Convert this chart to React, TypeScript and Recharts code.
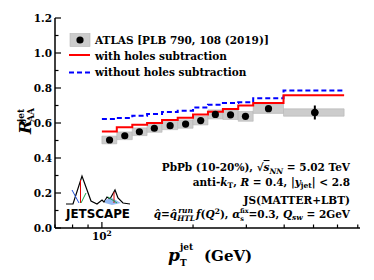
import React from "react"
import { ComposedChart, Line, Scatter, XAxis, YAxis, ReferenceArea, ErrorBar } from "recharts"

// ATLAS jet R_AA bins (GeV) and JETSCAPE curves
const binEdges = [100, 112, 126, 141, 158, 178, 200, 224, 251, 282, 316, 398, 631]
const binCenters = [106, 119, 133, 149, 168, 189, 212, 237, 266, 298, 355, 505]
const atlasRaa = [0.503, 0.527, 0.55, 0.57, 0.585, 0.594, 0.614, 0.649, 0.647, 0.638, 0.682, 0.66]
const atlasSys = [0.022, 0.022, 0.022, 0.023, 0.023, 0.024, 0.025, 0.026, 0.027, 0.028, 0.027, 0.021]
const atlasStat = [null, null, null, null, null, null, null, null, null, null, null, 0.04]
const withHoles = [0.551, 0.576, 0.59, 0.6, 0.617, 0.63, 0.648, 0.664, 0.68, 0.7, 0.714, 0.758]
const withoutHoles = [0.623, 0.629, 0.642, 0.651, 0.663, 0.67, 0.689, 0.705, 0.714, 0.718, 0.741, 0.786]

const xTicks = [70, 80, 90, 100, 200, 300, 400, 500, 600, 700]
const xMajor = [100]
const yTicks = [0, 0.1, 0.2, 0.3, 0.4, 0.5, 0.6, 0.7, 0.8, 0.9, 1.0, 1.1, 1.2]
const yLabels = ["0.0", "0.2", "0.4", "0.6", "0.8", "1.0", "1.2"]

const stepData = binEdges.map((pt, i) => ({
  pt,
  withHoles: withHoles[Math.min(i, withHoles.length - 1)],
  withoutHoles: withoutHoles[Math.min(i, withoutHoles.length - 1)],
}))

const points = binCenters.map((pt, i) => ({ pt, raa: atlasRaa[i], stat: atlasStat[i] }))
const statPoints = points.filter((p) => p.stat != null)

const FONT = "DejaVu Serif"

const isMajorY = (v: number) => Math.abs(Math.round(v * 10) % 2) === 0

function BottomTick({ x, y, payload }: any) {
  const major = xMajor.includes(payload.value)
  return (
    <g>
      <line x1={x} x2={x} y1={y} y2={y - (major ? 6 : 3.5)} stroke="#000" strokeWidth={1.2} />
      {major && (
        <text x={x} y={y + 12} textAnchor="middle" fontFamily={FONT} fontWeight="bold" fontSize={10.5}>
          10<tspan dy={-4} fontSize={7.5}>2</tspan>
        </text>
      )}
    </g>
  )
}

function TopTick({ x, y, payload }: any) {
  const major = xMajor.includes(payload.value)
  return <line x1={x} x2={x} y1={y} y2={y + (major ? 6 : 3.5)} stroke="#000" strokeWidth={1.2} />
}

function LeftTick({ x, y, payload }: any) {
  const major = isMajorY(payload.value)
  return (
    <g>
      <line x1={x} x2={x + (major ? 6 : 3.5)} y1={y} y2={y} stroke="#000" strokeWidth={1.2} />
      {major && (
        <text x={x - 3} y={y + 4} textAnchor="end" fontFamily={FONT} fontWeight="bold" fontSize={10.5}>
          {yLabels[Math.round(payload.value * 5)]}
        </text>
      )}
    </g>
  )
}

function RightTick({ x, y, payload }: any) {
  const major = isMajorY(payload.value)
  return <line x1={x} x2={x - (major ? 6 : 3.5)} y1={y} y2={y} stroke="#000" strokeWidth={1.2} />
}

const Dot = ({ cx, cy }: any) => <circle cx={cx} cy={cy} r={3.6} fill="#000" />

function Overlay() {
  const t = { fontFamily: FONT, fontWeight: "bold" as const, fill: "#000" }
  return (
    <svg width={374} height={280} style={{ position: "absolute", left: 0, top: 0, pointerEvents: "none" }}>
      {/* legend */}
      <rect x={70} y={33.5} width={20} height={13} fill="#cccccc" stroke="#b5b5b5" strokeWidth={0.6} />
      <circle cx={80} cy={40} r={3.6} fill="#000" />
      <text x={95} y={44} fontSize={10.5} {...t}>ATLAS [PLB 790, 108 (2019)]</text>
      <line x1={69} x2={90} y1={55} y2={55} stroke="#ff0000" strokeWidth={2} />
      <text x={95} y={60} fontSize={10.5} {...t}>with holes subtraction</text>
      <line x1={69} x2={90} y1={72.5} y2={72.5} stroke="#0000ff" strokeWidth={2} strokeDasharray="5 3" />
      <text x={95} y={76} fontSize={10.5} {...t}>without holes subtraction</text>

      {/* annotations */}
      <text x={350} y={171} textAnchor="end" fontSize={10.5} {...t}>
        PbPb (10-20%), √<tspan textDecoration="overline" fontStyle="italic">s</tspan>
        <tspan fontSize={7.5} dy={2.5} fontStyle="italic">NN</tspan>
        <tspan dy={-2.5}> = 5.02 TeV</tspan>
      </text>
      <text x={350} y={185.5} textAnchor="end" fontSize={10.5} {...t}>
        anti-<tspan fontStyle="italic">k</tspan>
        <tspan fontSize={7.5} dy={2.5}>T</tspan>
        <tspan dy={-2.5}>, </tspan>
        <tspan fontStyle="italic">R</tspan> = 0.4, |<tspan fontStyle="italic">y</tspan>
        <tspan fontSize={7.5} dy={2.5}>jet</tspan>
        <tspan dy={-2.5}>| &lt; 2.8</tspan>
      </text>
      <text x={350} y={203.5} textAnchor="end" fontSize={10.5} {...t}>JS(MATTER+LBT)</text>
      <text x={350} y={217.5} textAnchor="end" fontSize={10.5} {...t}>
        <tspan fontStyle="italic">q̂</tspan>=<tspan fontStyle="italic">q̂</tspan>
        <tspan fontSize={7.5} dy={3} fontStyle="italic">HTL</tspan>
        <tspan fontSize={7.5} dx={-17} dy={-8} fontStyle="italic">run</tspan>
        <tspan dx={3} dy={5} fontStyle="italic">f</tspan>(<tspan fontStyle="italic">Q</tspan>
        <tspan fontSize={7.5} dy={-4}>2</tspan>
        <tspan dy={4}>), </tspan>
        <tspan fontStyle="italic">α</tspan>
        <tspan fontSize={6.5} dy={3}>s</tspan>
        <tspan fontSize={6.5} dx={-4} dy={-8}>fix</tspan>
        <tspan dy={5}>=0.3, </tspan>
        <tspan fontStyle="italic">Q</tspan>
        <tspan fontSize={7.5} dy={2.5} fontStyle="italic">sw</tspan>
        <tspan dy={-2.5}> = 2GeV</tspan>
      </text>

      {/* JETSCAPE logo */}
      <polyline
        points="66,204 73,204 82,176 91,201 97,204 102,200 104,202 107,197 110,199 115,190 118,198 123,203 130,204"
        fill="none"
        stroke="#000"
        strokeWidth={1.2}
      />
      <polygon points="105,200 112,198 121,203 112,205 105,203" fill="#7aa7f0" opacity={0.8} />
      <line x1={80.5} y1={180} x2={80.5} y2={203} stroke="#e00000" strokeWidth={1} />
      <line x1={72} y1={190} x2={79} y2={203} stroke="#1d4ed8" strokeWidth={1} />
      <line x1={86} y1={193} x2={81} y2={203} stroke="#16a34a" strokeWidth={1} />
      <line x1={114} y1={192} x2={114} y2={203} stroke="#e00000" strokeWidth={1} />
      <line x1={108} y1={197} x2={117} y2={203} stroke="#16a34a" strokeWidth={1} />
      <text x={66} y={218} fontFamily="DejaVu Sans" fontWeight="bold" fontSize={12} textLength={64} lengthAdjust="spacingAndGlyphs">
        JETSCAPE
      </text>

      {/* axis titles */}
      <g transform="translate(31,134) rotate(-90)">
        <text x={0} y={0} fontSize={17} fontStyle="italic" {...t}>R</text>
        <text x={12} y={-7} fontSize={9} {...t}>jet</text>
        <text x={12} y={3} fontSize={9} {...t}>AA</text>
      </g>
      <text x={168} y={261} fontSize={17} {...t}>
        <tspan fontStyle="italic">p</tspan>
      </text>
      <text x={180} y={250} fontSize={9} {...t}>jet</text>
      <text x={180} y={266} fontSize={9} {...t}>T</text>
      <text x={204} y={261} fontSize={15} {...t}>(GeV)</text>
    </svg>
  )
}

export default function App() {
  return (
    <div style={{ position: "absolute", left: 0, top: 0, width: 374, height: 280, background: "#fff" }}>
      <ComposedChart width={374} height={280} data={stepData} margin={{ top: 18, right: 14, bottom: 0, left: 0 }}>
        <XAxis
          dataKey="pt"
          type="number"
          scale="log"
          domain={[70, 712]}
          allowDataOverflow
          ticks={xTicks}
          interval={0}
          height={52}
          tickSize={0}
          tickMargin={0}
          tickLine={false}
          axisLine={{ stroke: "#000", strokeWidth: 1.5 }}
          tick={<BottomTick />}
        />
        <XAxis
          xAxisId="top"
          orientation="top"
          dataKey="pt"
          type="number"
          scale="log"
          domain={[70, 712]}
          allowDataOverflow
          ticks={xTicks}
          interval={0}
          height={0}
          tickSize={0}
          tickMargin={0}
          tickLine={false}
          axisLine={{ stroke: "#000", strokeWidth: 1.5 }}
          tick={<TopTick />}
        />
        <YAxis
          type="number"
          domain={[0, 1.2]}
          allowDataOverflow
          ticks={yTicks}
          interval={0}
          width={55}
          tickSize={0}
          tickMargin={0}
          tickLine={false}
          axisLine={{ stroke: "#000", strokeWidth: 1.5 }}
          tick={<LeftTick />}
        />
        <YAxis
          yAxisId="right"
          orientation="right"
          type="number"
          domain={[0, 1.2]}
          allowDataOverflow
          ticks={yTicks}
          interval={0}
          width={0}
          tickSize={0}
          tickMargin={0}
          tickLine={false}
          axisLine={{ stroke: "#000", strokeWidth: 1.5 }}
          tick={<RightTick />}
        />
        {binCenters.map((_, i) => (
          <ReferenceArea
            key={i}
            x1={binEdges[i]}
            x2={binEdges[i + 1]}
            y1={atlasRaa[i] - atlasSys[i]}
            y2={atlasRaa[i] + atlasSys[i]}
            fill="#cccccc"
            fillOpacity={1}
            stroke="#b5b5b5"
            strokeWidth={0.6}
          />
        ))}
        <Line
          type="stepAfter"
          dataKey="withoutHoles"
          stroke="#0000ff"
          strokeWidth={2}
          strokeDasharray="5 3"
          dot={false}
          isAnimationActive={false}
        />
        <Line
          type="stepAfter"
          dataKey="withHoles"
          xAxisId="top"
          yAxisId="right"
          stroke="#ff0000"
          strokeWidth={2}
          dot={false}
          isAnimationActive={false}
        />
        <Scatter data={points} dataKey="raa" shape={<Dot />} isAnimationActive={false} />
        <Scatter data={statPoints} dataKey="raa" shape={<Dot />} isAnimationActive={false}>
          <ErrorBar dataKey="stat" direction="y" width={0} stroke="#000" strokeWidth={2} />
        </Scatter>
      </ComposedChart>
      <Overlay />
    </div>
  )
}
